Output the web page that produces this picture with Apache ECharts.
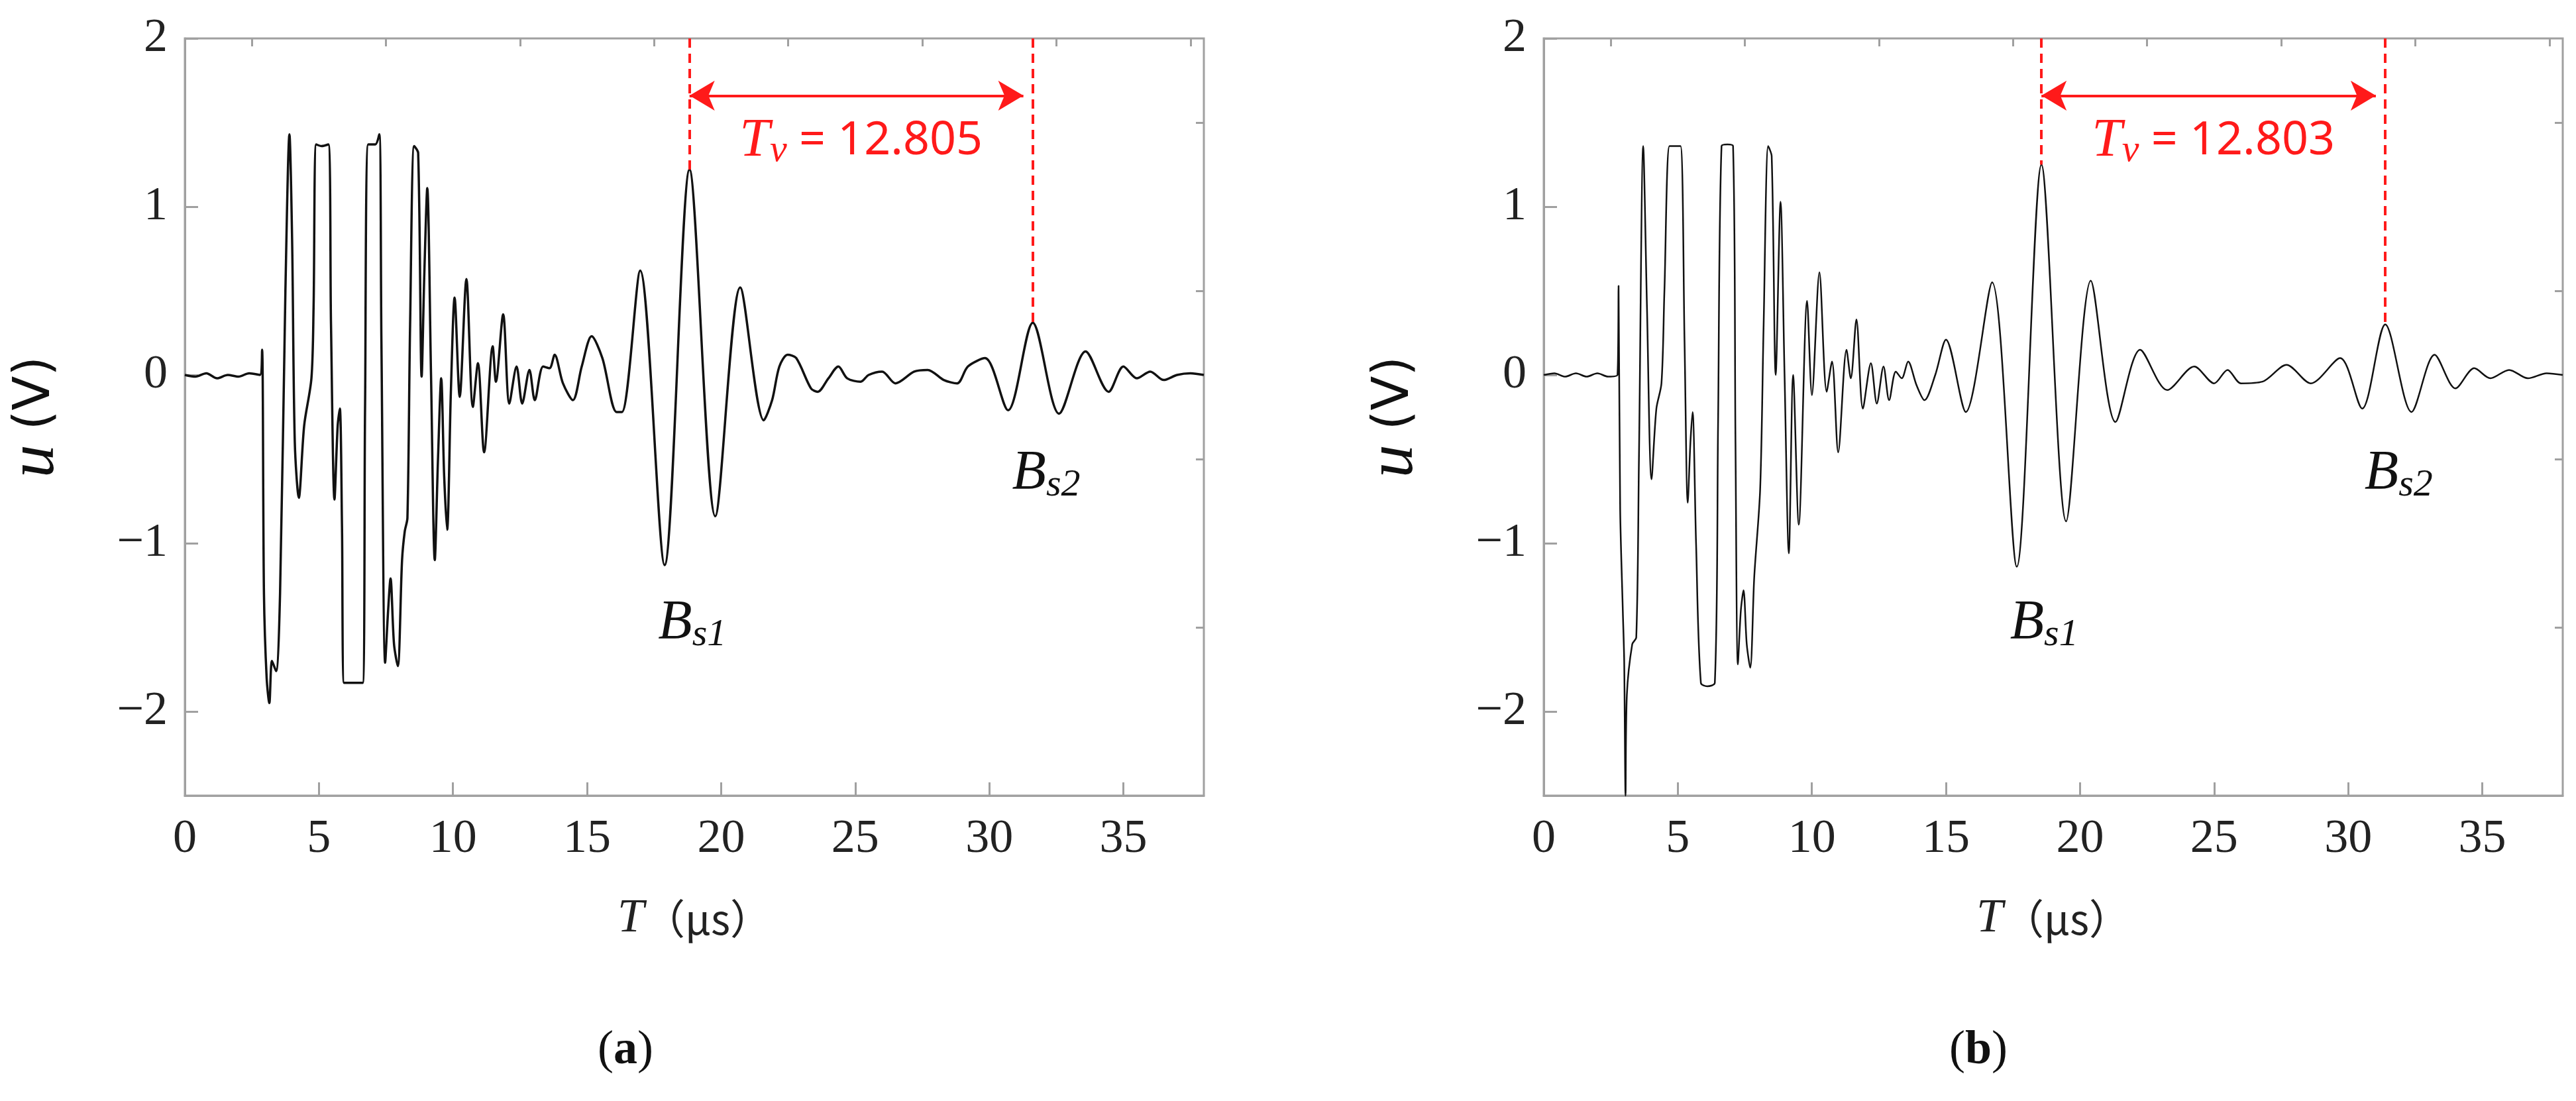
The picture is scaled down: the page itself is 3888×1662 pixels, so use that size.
<!DOCTYPE html>
<html><head><meta charset="utf-8">
<script src="https://cdn.jsdelivr.net/npm/echarts@6/dist/echarts.min.js"></script>
<style>html,body{margin:0;padding:0;background:#fff}#c{width:3888px;height:1662px}</style>
</head><body><div id="c"></div>
<script>
const xTicks=[0,5,10,15,20,25,30,35];
const xMinor=[2.5,7.5,12.5,17.5,22.5,27.5,32.5,37.5];
const yTicks=[-2,-1,0,1,2];
const yMinor=[-1.5,-0.5,0.5,1.5];
const signalA=[[0,0],[0.4,-0.01],[0.8,0.01],[1.2,-0.02],[1.6,0],[2.0,-0.01],[2.4,0.01],[2.8,0],[2.88,0.15],[2.95,-1.3],[3.05,-1.8],[3.15,-1.95],[3.25,-1.7],[3.4,-1.76],[3.55,-1.3],[3.75,0.5],[3.9,1.43],[4.0,0.8],[4.1,-0.4],[4.25,-0.73],[4.45,-0.3],[4.72,-0.02],[4.8,0.4],[4.9,1.37],[5.1,1.36],[5.35,1.37],[5.45,0.3],[5.58,-0.74],[5.7,-0.3],[5.78,-0.2],[5.86,-0.9],[5.94,-1.83],[6.3,-1.83],[6.63,-1.83],[6.72,-0.2],[6.84,1.37],[7.1,1.37],[7.25,1.43],[7.33,0.2],[7.47,-1.71],[7.58,-1.4],[7.67,-1.21],[7.8,-1.6],[7.94,-1.73],[8.1,-1.1],[8.2,-0.93],[8.3,-0.85],[8.4,0.3],[8.55,1.36],[8.7,1.32],[8.83,-0.01],[8.93,0.6],[9.04,1.11],[9.18,0.0],[9.32,-1.1],[9.44,-0.5],[9.56,-0.02],[9.67,-0.6],[9.78,-0.92],[9.92,-0.1],[10.06,0.46],[10.25,-0.13],[10.5,0.57],[10.74,-0.19],[10.93,0.07],[11.16,-0.46],[11.48,0.17],[11.6,-0.04],[11.87,0.36],[12.1,-0.17],[12.37,0.05],[12.58,-0.17],[12.85,0.03],[13.05,-0.15],[13.36,0.05],[13.6,0.04],[13.79,0.12],[14.1,-0.05],[14.47,-0.15],[14.8,0.05],[15.17,0.23],[15.57,0.1],[16.1,-0.22],[16.3,-0.22],[16.98,0.62],[17.89,-1.13],[18.82,1.22],[19.78,-0.84],[20.71,0.52],[21.59,-0.27],[21.9,-0.15],[22.17,0.05],[22.48,0.12],[22.8,0.1],[23.35,-0.08],[23.6,-0.1],[24.0,-0.02],[24.37,0.05],[24.7,-0.02],[25.2,-0.04],[25.5,0.0],[26.0,0.02],[26.5,-0.05],[27.2,0.02],[27.7,0.03],[28.3,-0.03],[28.8,-0.05],[29.2,0.05],[29.84,0.1],[30.7,-0.21],[31.62,0.31],[32.6,-0.23],[33.59,0.14],[34.45,-0.1],[35.0,0.05],[35.5,-0.02],[36.0,0.02],[36.5,-0.03],[37.0,0.0],[37.5,0.01],[38,0]];
const signalB=[[0,0],[0.4,0.01],[0.8,-0.01],[1.2,0.01],[1.6,-0.01],[2.0,0.01],[2.4,-0.01],[2.75,0],[2.79,0.53],[2.85,-0.8],[2.95,-1.41],[3.0,-1.7],[3.05,-2.5],[3.1,-1.9],[3.3,-1.6],[3.45,-1.56],[3.55,-0.5],[3.71,1.36],[3.85,0.4],[4.02,-0.62],[4.2,-0.2],[4.39,-0.05],[4.5,0.5],[4.69,1.36],[4.9,1.36],[5.1,1.36],[5.25,0.2],[5.37,-0.76],[5.47,-0.4],[5.55,-0.22],[5.68,-1.0],[5.86,-1.83],[6.1,-1.85],[6.38,-1.83],[6.5,-0.3],[6.63,1.36],[6.85,1.37],[7.06,1.36],[7.15,-0.4],[7.24,-1.72],[7.35,-1.4],[7.45,-1.28],[7.57,-1.6],[7.7,-1.74],[7.85,-1.2],[8.07,-0.68],[8.2,0.3],[8.37,1.36],[8.5,1.3],[8.65,0.0],[8.83,1.03],[8.98,0.0],[9.14,-1.06],[9.3,0.0],[9.51,-0.89],[9.82,0.44],[10.0,-0.12],[10.28,0.61],[10.55,-0.1],[10.75,0.08],[10.98,-0.46],[11.29,0.15],[11.45,-0.02],[11.66,0.33],[11.9,-0.2],[12.2,0.07],[12.42,-0.17],[12.67,0.05],[12.88,-0.15],[13.13,0.02],[13.35,-0.02],[13.59,0.08],[13.9,-0.06],[14.2,-0.15],[14.6,0.0],[15.0,0.21],[15.74,-0.22],[16.72,0.55],[17.64,-1.14],[18.56,1.25],[19.48,-0.87],[20.4,0.56],[21.32,-0.28],[22.24,0.15],[23.25,-0.09],[24.26,0.05],[25.0,-0.05],[25.5,0.03],[26.0,-0.05],[26.8,-0.04],[27.7,0.06],[28.6,-0.05],[29.7,0.1],[30.52,-0.2],[31.38,0.3],[32.36,-0.22],[33.22,0.12],[34.0,-0.08],[34.7,0.04],[35.3,-0.02],[36.0,0.03],[36.7,-0.02],[37.4,0.01],[38,0]];
const markersA={t1:18.82,t2:31.62,p1:1.22,p2:0.31,label:'12.805'};
const markersB={t1:18.56,t2:31.38,p1:1.25,p2:0.30,label:'12.803'};

const AX='#a0a0a0';
const serif='Times New Roman, Liberation Serif, DejaVu Serif, serif';
function xAxes(gi){
  return [{gridIndex:gi,type:'value',min:0,max:38,
    axisLine:{onZero:false,lineStyle:{color:AX,width:3}},splitLine:{show:false},
    axisTick:{inside:true,length:20,customValues:xTicks,lineStyle:{color:AX,width:3}},
    axisLabel:{customValues:xTicks,fontFamily:serif,fontSize:72,color:'#222',margin:30},
    name:'{i|T}{n|（μs）}',nameLocation:'middle',nameGap:150,
    nameTextStyle:{rich:{i:{fontFamily:serif,fontStyle:'italic',fontSize:72,color:'#222'},n:{fontFamily:'Noto Sans CJK SC',fontSize:62,color:'#222'}}}},
   {gridIndex:gi,type:'value',min:0,max:38,axisLine:{show:false,onZero:false},splitLine:{show:false},axisLabel:{show:false},
    axisTick:{inside:true,length:12,customValues:xMinor,lineStyle:{color:AX,width:3}}}];
}
function yAxes(gi){
  return [{gridIndex:gi,type:'value',min:-2.5,max:2,
    axisLine:{onZero:false,lineStyle:{color:AX,width:3}},splitLine:{show:false},
    axisTick:{inside:true,length:20,customValues:yTicks,lineStyle:{color:AX,width:3}},
    axisLabel:{customValues:yTicks,fontFamily:serif,fontSize:72,color:'#222',margin:26,formatter:v=>String(v).replace('-','−')},
    name:'{i|u}{n|(V)}',nameLocation:'middle',nameGap:175,nameRotate:90,
    nameTextStyle:{rich:{i:{fontFamily:serif,fontStyle:'italic',fontSize:100,color:'#111',padding:[0,22,0,0]},n:{fontFamily:'DejaVu Sans',fontSize:76,color:'#111'}}}},
   {gridIndex:gi,type:'value',min:-2.5,max:2,axisLine:{show:false,onZero:false},splitLine:{show:false},axisLabel:{show:false},
    axisTick:{inside:true,length:12,customValues:yMinor,lineStyle:{color:AX,width:3}}}];
}
const RED='#ff1a1a';
function lbl(text,x,y,rich){return {coord:[x,y],symbol:'circle',symbolSize:1,itemStyle:{color:'rgba(0,0,0,0)'},label:{show:true,position:'inside',fontFamily:serif,formatter:text,rich:rich}};}
const bRich={b:{fontFamily:serif,fontStyle:'italic',fontSize:84,color:'#111'},
        s:{fontFamily:serif,fontStyle:'italic',fontSize:58,color:'#111',padding:[34,0,0,0]}};
function sig(data,gi,w,m){
  return {type:'line',xAxisIndex:gi*2,yAxisIndex:gi*2,data:data,showSymbol:false,smooth:0.3,
    lineStyle:{color:'#111',width:w},silent:true,z:3,
    markLine:{silent:true,symbol:'none',lineStyle:{color:RED,width:4,type:[14,9]},label:{show:false},
      data:[[{coord:[m.t1,2]},{coord:[m.t1,m.p1]}],[{coord:[m.t2,2]},{coord:[m.t2,m.p2]}],
        [{coord:[m.t1,1.66],symbol:'arrow',symbolSize:[34,38],lineStyle:{type:'solid',width:4}},{coord:[m.t2-0.35,1.66],symbol:'arrow',symbolSize:[34,38]}]]},
    markPoint:{silent:true,data:[
      lbl('{t|T}{s|v}{e| = '+m.label+'}',(m.t1+m.t2)/2,1.39,{
        t:{fontFamily:serif,fontStyle:'italic',fontSize:82,color:RED},
        s:{fontFamily:serif,fontStyle:'italic',fontSize:58,color:RED,padding:[30,0,0,0]},
        e:{fontFamily:'Noto Sans',fontSize:70,color:RED}}),
      lbl('{b|B}{s|s1}',m.t1+0.1,-1.48,bRich),
      lbl('{b|B}{s|s2}',m.t2+0.5,-0.59,bRich)]}};
}
const chart=echarts.init(document.getElementById('c'),null,{renderer:'canvas'});
chart.setOption({
  backgroundColor:'#fff',animation:false,
  textStyle:{fontFamily:serif},
  grid:[{left:279,top:58,width:1538,height:1143,show:true,borderColor:AX,borderWidth:3},
        {left:2330,top:58,width:1538,height:1143,show:true,borderColor:AX,borderWidth:3}],
  xAxis:[...xAxes(0),...xAxes(1)],
  yAxis:[...yAxes(0),...yAxes(1)],
  title:[{text:'({b|a})',left:939,top:1545,textAlign:'center',textStyle:{fontFamily:serif,fontSize:72,fontWeight:'normal',color:'#111',rich:{b:{fontFamily:serif,fontSize:72,fontWeight:'bold',color:'#111'}}}},
         {text:'({b|b})',left:2981,top:1545,textAlign:'center',textStyle:{fontFamily:serif,fontSize:72,fontWeight:'normal',color:'#111',rich:{b:{fontFamily:serif,fontSize:72,fontWeight:'bold',color:'#111'}}}}],
  series:[sig(signalA,0,3.5,markersA),sig(signalB,1,2.5,markersB)]
});
</script></body></html>
